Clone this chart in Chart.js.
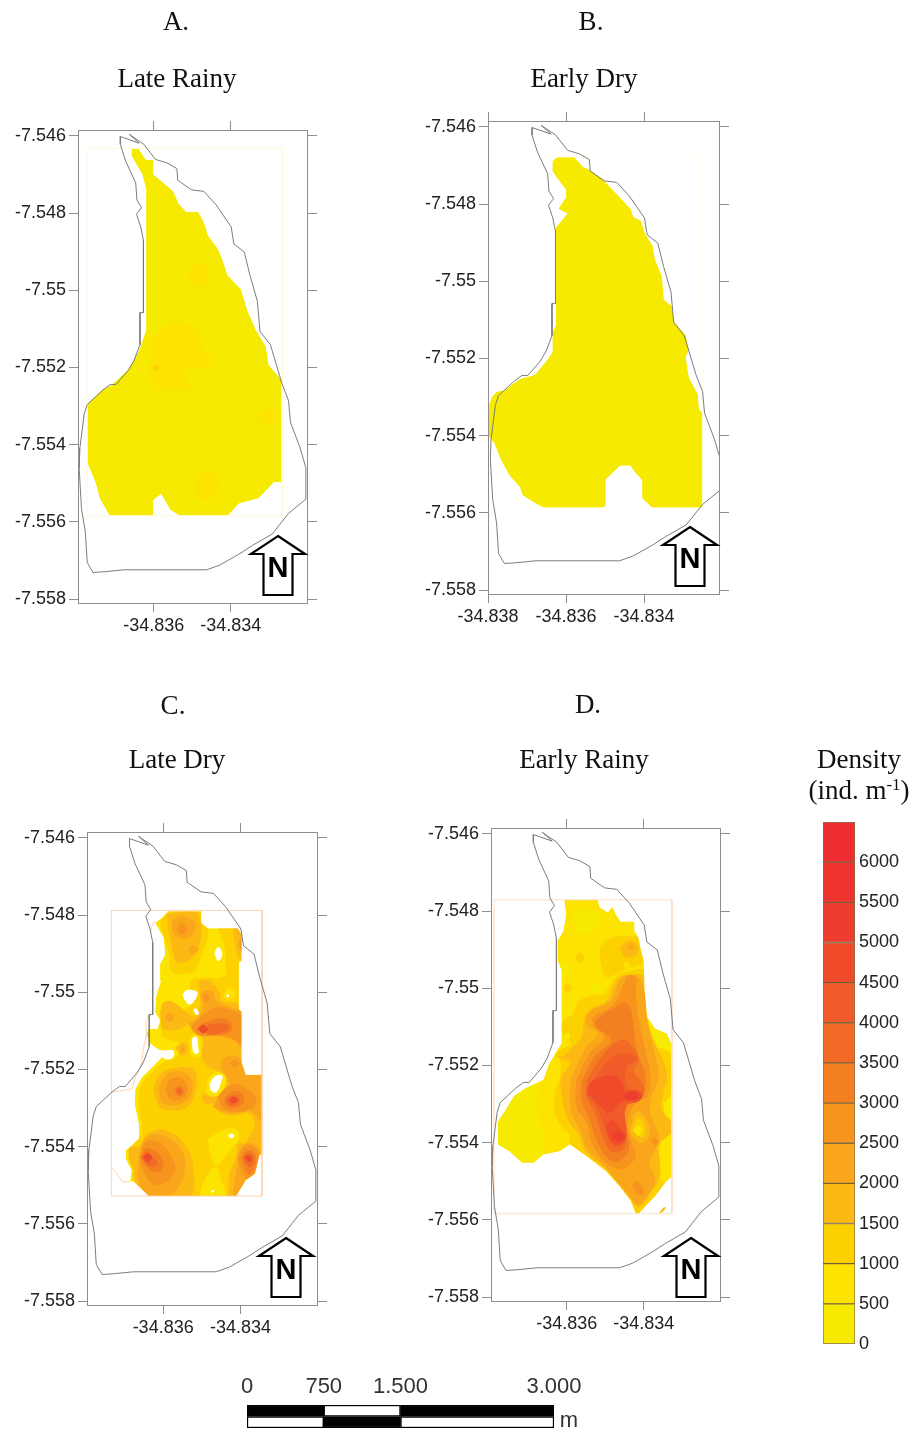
<!DOCTYPE html>
<html><head><meta charset="utf-8">
<script src="https://cdn.jsdelivr.net/npm/chart.js@4/dist/chart.umd.min.js"></script>
<style>
html,body{margin:0;padding:0;background:#fff;width:914px;height:1433px;overflow:hidden}
#page{position:relative;width:914px;height:1433px}
canvas{position:absolute;display:block}
.t{position:absolute;transform:translate(-50%,-50%);font-family:"Liberation Serif",serif;font-size:27px;color:#111;white-space:nowrap;line-height:1}
.t sup{font-size:17px;line-height:0;vertical-align:9px}
.m{font-family:"Liberation Sans",sans-serif;font-size:22px;color:#333}
svg{position:absolute;left:0;top:0}
</style></head><body><div id="page"></div>
<script>
// ---------- DATA ----------
// Map vertices are pairs (east, south) in 1e-5 degrees from the origin below.
const LON_ORIGIN = -34.84, LAT_ORIGIN = -7.54;
const lonTicks = [-34.836, -34.834];
const lonTicksB = [-34.838, -34.836, -34.834];
const latTicks = [-7.546, -7.548, -7.55, -7.552, -7.554, -7.556, -7.558];
const densityBreaks = [0,500,1000,1500,2000,2500,3000,3500,4000,4500,5000,5500,6000,6500];
const densityColors = ['#f5ea00','#fde400','#fdd000','#fdb913','#faa61a','#f7941e','#f47f20','#f26a25','#f15a29','#ef4b2b','#ee3d2e','#ee332f','#ee2d30'];
const scaleTicks = [0,750,1500,3000];
const scaleLabels = ['0','750','1.500','3.000'];
const scaleSegments = [[0,750],[750,1500],[1500,3000]];

const outline = [336,596,362,619,313,602,313,622,327,666,353,722,356,766,368,786,355,803,366,836,373,871,373,1058,364,1058,364,1141,349,1181,334,1207,302,1244,287,1244,268,1258,227,1296,219,1321,208,1408,206,1460,212,1565,222,1626,227,1705,242,1731,272,1729,323,1724,537,1724,571,1712,622,1683,656,1661,708,1631,750,1578,795,1541,795,1460,780,1408,755,1342,750,1286,733,1242,703,1141,676,1107,669,1028,650,962,635,901,608,880,601,836,562,779,530,744,498,740,462,715,460,685,434,670,404,661,374,622,336,596];

const gridA = [227,633,733,633,733,1584,227,1584];
const gridB = [200,678,751,678,751,1587,200,1587];
const gridC = [266,788,656,788,656,1528,266,1528];
const gridD = [211,771,673,771,673,1584,211,1584];
const edgesC = [[266,1259,285,1256,320,1250,328,1220,345,1181,348,1151,356,1113,356,1074,367,1052],[266,1455,277,1465,294,1491,314,1491],[379,816,370,830,367,846]];

// each contour: [lower density of band (null = no data), vertices]
const contoursA = [
[0,[342,633,360,633,380,663,399,663,399,700,426,722,451,744,464,775,484,797,515,797,530,823,541,858,567,893,579,923,592,962,626,997,644,1054,665,1102,691,1146,699,1194,733,1233,733,1497,712,1497,673,1539,622,1552,592,1584,468,1584,443,1569,419,1528,399,1543,399,1584,285,1584,259,1539,249,1500,227,1447,227,1294,266,1258,289,1246,332,1207,362,1155,380,1102,380,740,370,700,342,652]],
[500,[490,945,511,928,537,936,545,962,532,989,507,990,488,967]],
[500,[391,1128,417,1098,464,1078,494,1089,520,1120,528,1146,550,1176,541,1198,494,1207,485,1225,498,1255,451,1259,409,1255,387,1225,391,1172]],
[1000,[396,1200,405,1193,416,1200,405,1208]],
[500,[665,1328,682,1312,708,1312,721,1328,703,1345,678,1342]],
[500,[503,1504,520,1473,545,1465,568,1486,562,1526,537,1545,511,1534]]
];
const contoursB = [
[0,[377,678,421,678,444,704,461,711,492,733,566,813,573,834,591,842,603,877,622,908,628,943,646,987,651,1048,672,1065,677,1105,707,1140,715,1179,707,1197,715,1249,738,1293,741,1332,751,1341,751,1587,621,1587,595,1562,595,1516,573,1490,565,1478,539,1478,502,1513,502,1581,494,1587,345,1587,324,1577,289,1555,281,1533,255,1503,233,1463,216,1420,200,1398,200,1328,209,1301,221,1286,242,1282,281,1253,320,1242,354,1201,365,1183,365,1135,374,1113,374,860,403,825,380,812,401,781,400,764,380,737,365,715,365,689]]
];
const contoursC = [
[500,[414,790,499,790,499,820,516,834,593,834,603,850,603,919,596,923,596,1044,603,1050,603,1181,614,1214,656,1214,656,1418,649,1422,638,1470,614,1487,589,1528,362,1528,324,1491,314,1491,318,1461,303,1431,303,1409,320,1395,337,1379,337,1341,326,1289,328,1250,345,1220,371,1194,397,1168,422,1160,418,1151,392,1151,367,1134,356,1108,362,1095,385,1095,392,1074,379,1052,382,1009,394,970,392,927,405,902,401,859,379,820,397,807]],
[1000,[479,963,520,962,550,962,593,936,596,1044,603,1050,603,1181,614,1214,656,1214,656,1418,649,1422,638,1470,614,1487,589,1528,362,1528,324,1491,320,1401,341,1375,345,1341,337,1289,345,1237,367,1211,401,1181,435,1168,444,1134,401,1117,394,1091,397,1031,418,1022,456,1044,478,1014,469,979]],
[1000,[414,790,499,790,499,820,516,834,516,854,499,906,482,945,452,953,422,945,416,902,401,854,392,824,401,803]],
[1000,[542,834,593,834,603,850,603,919,596,923,596,1005,580,979,563,945,559,884]],
[500,[516,1379,563,1354,589,1356,596,1379,585,1396,559,1427,538,1448,522,1418]],
[500,[495,1528,503,1496,535,1452,550,1487,559,1528]],
[500,[556,1005,570,989,585,1001,580,1015,563,1018]],
[500,[469,1117,491,1108,499,1143,499,1164,474,1164]],
[500,[512,1237,529,1210,559,1210,562,1237,542,1267,516,1263]],
[1500,[409,798,482,791,497,816,499,850,486,897,452,923,431,915,422,876,414,841]],
[1500,[580,834,593,834,603,850,603,919,593,906,585,867]],
[1500,[491,970,520,970,546,1001,553,1022,596,1031,603,1052,603,1181,614,1214,656,1214,656,1418,632,1427,614,1392,636,1349,623,1315,580,1319,546,1310,529,1289,508,1289,503,1263,529,1272,555,1255,562,1220,538,1203,512,1190,499,1160,503,1117,474,1100,465,1082,444,1095,401,1095,394,1074,399,1029,422,1024,461,1052,482,1063,495,1031]],
[1500,[375,1250,392,1211,444,1194,482,1203,482,1263,461,1298,426,1306,392,1298]],
[1500,[337,1401,367,1362,409,1358,461,1401,478,1461,469,1528,362,1528,328,1491,320,1452,311,1431,315,1401]],
[1500,[568,1528,572,1470,589,1422,593,1392,615,1392,656,1392,656,1418,649,1422,638,1470,614,1487,589,1528]],
[1500,[431,1143,456,1130,465,1151,448,1164]],
[2000,[422,816,448,803,482,820,474,854,452,863,428,850]],
[2000,[465,889,476,878,491,889,476,900]],
[2000,[403,1065,415,1053,429,1065,415,1077]],
[2000,[445,1147,450,1140,457,1149,450,1156]],
[2000,[388,1250,405,1216,439,1205,471,1220,474,1259,456,1285,422,1293,397,1285]],
[2000,[465,1082,491,1065,503,1031,499,1001,525,996,542,1026,589,1044,603,1052,603,1143,585,1125,559,1117,520,1113,491,1113]],
[2000,[529,1298,546,1263,572,1237,550,1194,563,1168,603,1173,614,1214,656,1214,656,1332,623,1306,589,1315,546,1306]],
[2000,[337,1431,358,1375,401,1371,448,1409,456,1461,435,1513,401,1528,367,1528,337,1491]],
[2000,[580,1528,589,1461,602,1401,632,1392,653,1422,638,1470,614,1487,593,1528]],
[2500,[435,837,448,822,462,835,448,850]],
[2500,[502,1014,510,1005,520,1014,510,1024]],
[2500,[405,1250,418,1226,442,1220,461,1237,459,1267,435,1280,414,1272]],
[2500,[596,876,603,854,603,897]],
[2500,[482,1078,512,1052,542,1038,580,1048,603,1061,603,1134,572,1117,538,1113,499,1113,474,1095]],
[2500,[542,1272,559,1250,589,1237,610,1246,640,1272,632,1298,597,1310,555,1302]],
[2500,[572,1186,585,1175,597,1186,585,1194]],
[2500,[337,1427,354,1388,388,1388,422,1427,431,1461,409,1491,379,1500,354,1474]],
[2500,[593,1427,610,1401,636,1401,649,1422,638,1461,619,1483,602,1461]],
[3000,[428,1256,441,1242,454,1255,444,1270]],
[3000,[499,1082,538,1069,572,1074,576,1100,538,1111,503,1108,486,1098]],
[3000,[555,1280,576,1259,602,1259,610,1280,593,1298,568,1298]],
[3000,[341,1428,358,1405,384,1414,401,1444,388,1465,362,1457]],
[3000,[602,1427,619,1409,640,1422,636,1457,619,1470]],
[3500,[520,1082,563,1082,570,1095,538,1108,512,1104]],
[3500,[563,1279,580,1267,597,1276,589,1291,570,1291]],
[3500,[343,1428,358,1414,375,1427,385,1444,367,1452]],
[3500,[606,1428,621,1416,636,1431,627,1452,615,1444]],
[3500,[433,1256,441,1248,449,1256,441,1264]],
[4500,[491,1095,503,1084,516,1095,503,1106]],
[4500,[570,1279,582,1270,593,1280,580,1287]],
[4500,[348,1427,360,1418,371,1428,360,1440]],
[4500,[612,1428,621,1422,631,1431,621,1440]],
[null,[532,900,542,883,553,900,543,919]],
[null,[450,1005,462,994,489,1001,478,1026,468,1032,456,1020]],
[null,[478,1046,485,1042,493,1055,486,1059]],
[null,[475,1119,486,1115,491,1143,491,1157,480,1158,475,1138]],
[null,[397,1167,409,1151,426,1151,428,1164,418,1174,401,1171]],
[null,[520,1237,533,1218,553,1216,550,1233,538,1259,525,1256]],
[null,[568,1372,576,1366,584,1372,576,1378]],
[null,[524,1515,527,1512,532,1515,527,1519]],
[null,[563,1008,567,1005,571,1008,567,1013]]
];
const contoursD = [
[500,[393,771,480,771,486,791,506,803,519,789,527,808,540,827,576,827,576,851,586,868,592,898,600,928,602,1001,609,1074,630,1104,660,1117,673,1147,673,1487,656,1504,630,1538,609,1560,587,1584,579,1584,566,1551,540,1517,502,1474,451,1435,408,1405,382,1422,339,1431,314,1452,284,1452,250,1422,221,1405,221,1345,241,1315,262,1280,292,1259,339,1237,352,1199,375,1160,386,1143,386,954,376,928,376,877,391,851,398,808]],
[1000,[485,894,510,872,553,864,579,864,586,868,592,898,600,928,596,937,553,950,532,962,502,971,489,937]],
[1000,[391,1083,416,1066,429,1035,468,1018,497,1014,527,971,553,958,600,954,602,1001,609,1074,621,1126,639,1151,673,1177,673,1487,656,1504,630,1538,609,1560,587,1584,579,1584,566,1551,540,1517,502,1474,451,1435,408,1405,406,1379,386,1358,369,1323,369,1272,382,1229,382,1186,369,1177,382,1160,408,1143,386,1109]],
[1000,[421,921,433,907,446,921,433,935]],
[1000,[391,999,402,986,414,999,402,1012]],
[500,[643,1401,673,1371,673,1487,656,1504,639,1487,630,1461]],
[500,[651,1298,673,1280,673,1341,660,1341]],
[500,[546,939,555,932,563,941,553,947]],
[0,[221,1405,221,1345,241,1315,262,1280,292,1259,327,1246,324,1306,339,1383,339,1431,314,1452,284,1452,250,1422]],
[0,[416,799,476,799,489,825,476,842,451,858,421,842]],
[0,[386,928,408,950,391,965,386,958]],
[0,[463,997,476,986,493,995,485,1010,468,1010]],
[0,[392,1124,401,1115,409,1124,401,1133]],
[0,[613,1134,630,1109,643,1117,660,1117,673,1147,673,1156,647,1156,626,1151]],
[0,[652,1315,664,1289,673,1285,673,1336,660,1336]],
[1500,[536,898,553,881,574,879,586,898,579,915,553,919]],
[1500,[391,1177,416,1151,438,1126,446,1078,463,1053,502,1035,532,975,553,967,596,967,602,1005,609,1083,630,1143,660,1220,651,1272,647,1315,673,1349,673,1371,651,1392,639,1409,643,1461,639,1495,613,1538,587,1568,570,1551,545,1517,502,1469,451,1426,433,1383,403,1341,386,1272,386,1229,408,1194,374,1177]],
[2000,[557,894,566,887,576,894,566,901]],
[2000,[412,1229,451,1151,480,1117,451,1091,459,1061,515,1031,536,980,557,967,583,971,600,997,609,1083,626,1160,639,1229,621,1280,617,1323,639,1383,626,1426,613,1452,630,1495,609,1538,583,1560,562,1538,536,1508,498,1461,455,1418,433,1366,408,1306]],
[2500,[620,1396,628,1388,639,1398,628,1408]],
[2500,[570,1508,580,1498,596,1512,600,1530,587,1536,574,1521]],
[2500,[425,1237,459,1169,498,1126,472,1100,468,1074,519,1044,549,988,557,967,579,971,580,1014,587,1083,602,1151,617,1229,609,1280,579,1298,557,1349,566,1392,579,1435,557,1461,536,1469,502,1452,468,1409,451,1349,425,1306]],
[3000,[438,1242,472,1177,515,1134,476,1100,476,1083,519,1053,557,1040,574,1100,579,1151,604,1229,596,1280,557,1306,549,1375,562,1401,553,1435,519,1448,485,1409,459,1341,438,1289]],
[3500,[451,1242,493,1173,545,1133,574,1156,587,1190,574,1212,600,1255,592,1289,553,1306,557,1383,545,1418,515,1422,493,1383,472,1323,451,1280]],
[4000,[463,1246,506,1190,545,1169,583,1182,557,1203,557,1255,596,1272,587,1293,553,1306,553,1383,536,1409,515,1401,498,1358,476,1306,451,1272]],
[4500,[455,1259,463,1242,519,1226,545,1246,549,1267,583,1265,594,1280,579,1291,545,1293,510,1323,489,1306,459,1276]],
[4500,[502,1358,515,1341,536,1358,553,1383,545,1401,523,1401,506,1379]],
[5000,[549,1276,570,1267,587,1280,574,1289,553,1287]],
[5000,[517,1383,532,1371,549,1383,536,1396]],
[1500,[562,1371,583,1319,613,1353,613,1383,596,1401,579,1392]],
[1000,[570,1368,586,1334,603,1362,596,1385]],
[500,[573,1368,585,1356,596,1368,585,1382]]
];
const strayD = [[1500,[639,1584,651,1568,657,1568,647,1581]]];

// ---------- LAYOUT ----------
const TICK_FONT = {family:'"Liberation Sans",sans-serif', size:18};
const INK = '#222', FRAME = '#8e8e8e';
const page = document.getElementById('page');
function addCanvas(left, top, w, h){
  const c = document.createElement('canvas');
  c.width = w; c.height = h;
  c.style.left = left+'px'; c.style.top = top+'px';
  c.style.width = w+'px'; c.style.height = h+'px';
  page.appendChild(c);
  return c;
}
function bandColor(band){
  if (band === null) return '#ffffff';
  return densityColors[densityBreaks.indexOf(band)];
}
function toPoints(flat, sharp, close){
  const out = [];
  for (let i=0;i<flat.length;i+=2){
    const p = {x:LON_ORIGIN+flat[i]/1e5, y:LAT_ORIGIN-flat[i+1]/1e5};
    out.push(p);
    if (sharp && sharp.has(flat[i]+','+flat[i+1])) out.push({x:p.x,y:p.y});
  }
  if (close) out.push({x:out[0].x,y:out[0].y});
  return out;
}
// white area between the plot frame and the outer contour, trimming the smoothed bands
function maskPoints(basePts, cfg){
  let area = 0;
  for (let i=0;i<basePts.length-1;i++) area += basePts[i].x*basePts[i+1].y-basePts[i+1].x*basePts[i].y;
  const a={x:cfg.lonMin,y:cfg.latMin}, b={x:cfg.lonMax,y:cfg.latMin}, c={x:cfg.lonMax,y:cfg.latMax}, d={x:cfg.lonMin,y:cfg.latMax};
  const rect = area>0 ? [a,d,c,b,a] : [a,b,c,d,a];
  return basePts.concat(rect,[basePts[0]]);
}
function drawPanel(cfg){
  const {frameLeft:fl, frameTop:ft, frameW:fw, frameH:fh} = cfg;
  const L=78,R=20,T=20,B=40;
  const canvas = addCanvas(fl-L, ft-T, L+fw+R, T+fh+B);
  const base = cfg.contours[0][1];
  const sharp = new Set();
  for (let i=0;i<base.length;i+=2) sharp.add(base[i]+','+base[i+1]);
  const datasets = [];
  const line = (pts,color,w)=>datasets.push({data:pts,showLine:true,pointRadius:0,borderColor:color,borderWidth:w,fill:false,tension:0});
  cfg.contours.forEach((c,i)=>{
    const color = bandColor(c[0]);
    datasets.push({data:toPoints(c[1], i===0?null:sharp, true),showLine:true,pointRadius:0,borderWidth:0,borderColor:color,backgroundColor:color,fill:'shape',tension:i===0?0:0.4});
  });
  datasets.push({data:maskPoints(toPoints(base,null,true),cfg),showLine:true,pointRadius:0,borderWidth:0,borderColor:'#fff',backgroundColor:'#fff',fill:'shape',tension:0});
  (cfg.extras||[]).forEach(c=>{
    const color = bandColor(c[0]);
    datasets.push({data:toPoints(c[1],null,true),showLine:true,pointRadius:0,borderWidth:0,borderColor:color,backgroundColor:color,fill:'shape',tension:0.4});
  });
  line(toPoints(cfg.grid,null,true),cfg.gridColor,1);
  (cfg.edges||[]).forEach(e=>line(toPoints(e,null,false),cfg.gridColor,1));
  line(toPoints(outline,null,true),'#7d7d7d',1);
  datasets.forEach((d,i)=>{d.order = datasets.length-i;});
  const fixed = (side,size)=>s=>{ if(side==='w') s.width=size; else s.height=size; };
  const setTicks = vals=>s=>{ s.ticks = vals.map(v=>({value:v})); };
  const common = (vals,pos,side,size,labels,pad,tl)=>({
    type:'linear',position:pos,
    min:side==='w'?cfg.latMin:cfg.lonMin,max:side==='w'?cfg.latMax:cfg.lonMax,
    afterBuildTicks:setTicks(vals),afterFit:fixed(side,size),
    grid:{drawOnChartArea:false,drawTicks:true,tickLength:tl,color:FRAME,z:1},
    border:{display:true,color:FRAME,width:1,z:1},
    ticks:{display:labels,color:INK,font:TICK_FONT,padding:pad,autoSkip:false,maxRotation:0,callback:v=>String(v)}
  });
  new Chart(canvas,{type:'scatter',data:{datasets},options:{
    responsive:false,animation:false,events:[],
    layout:{padding:0},
    plugins:{legend:{display:false},tooltip:{enabled:false},title:{display:false}},
    scales:{
      x:common(cfg.lonTicks,'bottom','h',B,true,3,9),
      y:common(latTicks,'left','w',L,true,3,9),
      x2:common(cfg.lonTicks,'top','h',T,false,0,9),
      y2:common(latTicks,'right','w',R,false,0,10)
    }
  }});
}
const panelBase = {lonMin:-34.83797,lonMax:-34.83202,latMin:-7.5581,latMax:-7.54585,frameW:229,frameH:473,lonTicks};
drawPanel({...panelBase,frameLeft:78,frameTop:130,grid:gridA,gridColor:'#fffbd8',contours:contoursA});
drawPanel({...panelBase,lonMin:-34.838,lonMax:-34.83208,frameLeft:488,frameTop:121,frameW:231,grid:gridB,gridColor:'#fffff0',contours:contoursB,lonTicks:lonTicksB});
drawPanel({...panelBase,frameLeft:87,frameTop:832,frameW:230,grid:gridC,gridColor:'#fdd3b0',edges:edgesC,contours:contoursC});
drawPanel({...panelBase,frameLeft:491,frameTop:828,grid:gridD,gridColor:'#fcdcc6',contours:contoursD,extras:strayD});

// density legend
(function(){
  const canvas = addCanvas(790,810,124,545);
  const datasets = densityColors.map((c,i)=>({data:[[densityBreaks[i],densityBreaks[i+1]]],backgroundColor:c,borderColor:'rgba(90,70,20,.75)',borderWidth:1,borderSkipped:false,barPercentage:1,categoryPercentage:1,grouped:false}));
  new Chart(canvas,{type:'bar',data:{labels:['density'],datasets},options:{
    responsive:false,animation:false,events:[],
    layout:{padding:{left:33,top:12,bottom:11,right:0}},
    plugins:{legend:{display:false},tooltip:{enabled:false}},
    scales:{
      x:{display:false},
      y:{position:'right',min:0,max:6500,afterFit:s=>{s.width=59;s.paddingTop=0;s.paddingBottom=0;},
         afterBuildTicks:s=>{s.ticks=densityBreaks.slice(0,-1).map(v=>({value:v}));},
         grid:{display:false,drawTicks:false},border:{display:false},
         ticks:{color:INK,font:TICK_FONT,padding:4,callback:v=>String(v)}}
    }
  }});
})();

// scale bar
(function(){
  const canvas = addCanvas(200,1370,400,63);
  const rowColors = [['#000','#fff'],['#fff','#000'],['#000','#fff']];
  const datasets = scaleSegments.map((s,i)=>({data:[s,s],backgroundColor:rowColors[i],borderColor:'#000',borderWidth:1.5,borderSkipped:false,barPercentage:1,categoryPercentage:1,grouped:false}));
  new Chart(canvas,{type:'bar',data:{labels:['upper','lower'],datasets},options:{
    indexAxis:'y',responsive:false,animation:false,events:[],
    layout:{padding:{left:47,right:46,top:0,bottom:5}},
    plugins:{legend:{display:false},tooltip:{enabled:false}},
    scales:{
      y:{display:false},
      x:{position:'top',min:0,max:3000,afterFit:s=>{s.height=35;},
         afterBuildTicks:s=>{s.ticks=scaleTicks.map(v=>({value:v}));},
         grid:{display:false,drawTicks:false},border:{display:false},
         ticks:{color:'#333',font:{family:'"Liberation Sans",sans-serif',size:22},padding:5,autoSkip:false,maxRotation:0,
                callback:v=>scaleLabels[scaleTicks.indexOf(v)]}}
    }
  }});
})();

// north arrows + texts
const arrows = [[278,536],[690,527],[286,1238],[691,1238]];
const NS='http://www.w3.org/2000/svg';
const svg=document.createElementNS(NS,'svg');
svg.setAttribute('width',914);svg.setAttribute('height',1433);
arrows.forEach(([x,y])=>{
  const p=document.createElementNS(NS,'polygon');
  p.setAttribute('points',[[x,y],[x+27,y+18],[x+14.5,y+18],[x+14.5,y+59],[x-14.5,y+59],[x-14.5,y+18],[x-27,y+18]].map(a=>a.join(',')).join(' '));
  p.setAttribute('fill','#fff');p.setAttribute('stroke','#000');p.setAttribute('stroke-width','2.2');
  svg.appendChild(p);
  const t=document.createElementNS(NS,'text');
  t.setAttribute('x',x);t.setAttribute('y',y+41);t.setAttribute('text-anchor','middle');
  t.setAttribute('font-family','"Liberation Sans",sans-serif');t.setAttribute('font-weight','700');t.setAttribute('font-size','29');
  t.textContent='N';svg.appendChild(t);
});
page.appendChild(svg);
const labels=[['A.',176,21],['Late Rainy',177,78],['B.',591,21],['Early Dry',584,78],['C.',173,705],['Late Dry',177,759],['D.',588,704],['Early Rainy',584,759],['Density',859,759]];
labels.forEach(([s,x,y])=>{const d=document.createElement('div');d.className='t';d.style.left=x+'px';d.style.top=y+'px';d.textContent=s;page.appendChild(d);});
const u=document.createElement('div');u.className='t';u.style.left='859px';u.style.top='790px';u.innerHTML='(ind. m<sup>-1</sup>)';page.appendChild(u);
const m=document.createElement('div');m.className='t m';m.style.left='569px';m.style.top='1420px';m.textContent='m';page.appendChild(m);
</script></body></html>
